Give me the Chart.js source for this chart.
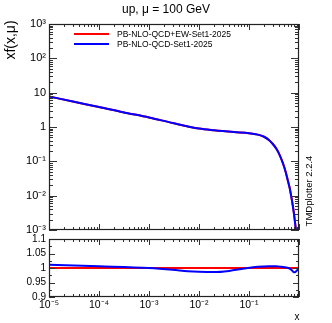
<!DOCTYPE html>
<html><head><meta charset="utf-8">
<script src="https://cdn.jsdelivr.net/npm/chart.js@4.4.0/dist/chart.umd.min.js"></script>
<style>
html,body{margin:0;padding:0;background:#fff;}
#wrap{position:relative;width:332px;height:323px;overflow:hidden;font-family:'Liberation Sans',Arial,sans-serif;background:#fff;}
canvas{position:absolute;left:0;top:0;}
.t{position:absolute;white-space:nowrap;color:#000;line-height:1;}
</style></head><body>
<div id="wrap">
<canvas id="c1" width="332" height="323"></canvas>
<canvas id="c2" width="332" height="323"></canvas>
<div class="t" style="left:166px;top:9px;font-size:12px;transform:translate(-50%,-50%)">up, μ = 100 GeV</div>
<div class="t" style="left:10px;top:40px;font-size:14px;transform:translate(-50%,-50%) rotate(-90deg)">xf(x,μ)</div>
<div class="t" style="left:309px;top:191px;font-size:9.5px;transform:translate(-50%,-50%) rotate(-90deg)">TMDplotter 2.2.4</div>
<div class="t" style="left:297px;top:317px;font-size:10px;transform:translate(-50%,-50%)">x</div>
<div id="legend"></div>
</div>
<script>
// ---- data ----
const xValues = [1e-5, 3e-5, 1e-4, 3e-4, 1e-3, 3e-3, 1e-2, 2e-2, 5e-2, 0.1, 0.15, 0.2, 0.25, 0.3, 0.35, 0.4, 0.45, 0.5, 0.55, 0.6, 0.65, 0.7, 0.75, 0.8, 0.85, 0.9];
const xfQCDEW = [7.8, 5.5, 3.85, 2.7, 1.9, 1.3, 0.9, 0.8, 0.71, 0.66, 0.6, 0.52, 0.42, 0.32, 0.235, 0.165, 0.11, 0.072, 0.045, 0.027, 0.017, 0.0095, 0.0052, 0.0027, 0.0013, 0.0006];
const xfQCD   = [7.8, 5.5, 3.85, 2.7, 1.9, 1.3, 0.9, 0.8, 0.71, 0.66, 0.6, 0.52, 0.42, 0.32, 0.235, 0.165, 0.11, 0.072, 0.045, 0.027, 0.017, 0.0095, 0.0052, 0.0027, 0.0013, 0.0006];
const ratioX    = [1e-5, 1e-4, 1e-3, 3e-3, 6e-3, 1e-2, 2e-2, 4e-2, 8e-2, 0.15, 0.25, 0.35, 0.45, 0.55, 0.65, 0.72, 0.78, 0.83, 0.88, 0.93, 1.0];
const ratioEW   = [1, 1, 1, 1, 1, 1, 1, 1, 1, 1, 1, 1, 1, 1, 1, 1, 1, 1, 1, 1, 1];
const ratioQCD  = [1.011, 1.006, 1.0, 0.994, 0.989, 0.987, 0.986, 0.99, 0.998, 1.004, 1.006, 1.006, 1.004, 1.002, 0.998, 0.992, 0.986, 0.985, 0.989, 0.993, 0.995];
const seriesNames = ['PB-NLO-QCD+EW-Set1-2025', 'PB-NLO-QCD-Set1-2025'];
const seriesColors = ['#ff0000', '#0000ff'];
const xTickValues = [1e-5, 1e-4, 1e-3, 1e-2, 1e-1];
const xTickLabels = ['10⁻⁵', '10⁻⁴', '10⁻³', '10⁻²', '10⁻¹'];
const yTopTickValues = [1e-3, 1e-2, 1e-1, 1, 10, 100, 1000];
const yTopTickLabels = ['10⁻³', '10⁻²', '10⁻¹', '1', '10', '10²', '10³'];
const yRatioTickValues = [0.9, 0.95, 1, 1.05, 1.1];
const yRatioTickLabels = ['0.9', '0.95', '1', '1.05', '1.1'];

const FONT = "'Liberation Sans', Arial, sans-serif";

function logTicks(lo, hi) {
  const out = [];
  for (let e = lo; e <= hi; e++) {
    for (let k = 1; k <= 9; k++) {
      const v = k * Math.pow(10, e);
      if (v > Math.pow(10, hi) * 1.0001) break;
      out.push([v, k === 1]);
    }
  }
  return out;
}
function linTicks(lo, hi, step, majorEvery) {
  const out = [];
  const n = Math.round((hi - lo) / step);
  for (let i = 0; i <= n; i++) out.push([lo + i * step, i % majorEvery === 0]);
  return out;
}

const framePlugin = {
  id: 'frame',
  afterDatasetsDraw(chart, args, o) {
    const {ctx, chartArea: {left, right, top, bottom}} = chart;
    const xs = chart.scales.x, ys = chart.scales.y;
    ctx.save();
    ctx.strokeStyle = '#333';
    ctx.lineWidth = 1;
    ctx.beginPath();
    o.xTicks.forEach(([v, major]) => {
      const px = Math.round(xs.getPixelForValue(v)) + 0.5;
      if (px < left || px > right + 1) return;
      const L = major ? o.xMajor : o.xMinor;
      ctx.moveTo(px, bottom); ctx.lineTo(px, bottom - L);
      ctx.moveTo(px, top); ctx.lineTo(px, top + L);
    });
    o.yTicks.forEach(([v, major]) => {
      const py = Math.round(ys.getPixelForValue(v)) + 0.5;
      if (py < top || py > bottom + 1) return;
      const L = major ? o.yMajor : o.yMinor;
      ctx.moveTo(left, py); ctx.lineTo(left + L, py);
      ctx.moveTo(right, py); ctx.lineTo(right - L, py);
    });
    ctx.stroke();
    ctx.lineWidth = 1.2;
    ctx.strokeStyle = '#222';
    ctx.strokeRect(left + 0.5, top + 0.5, right - left - 1, bottom - top - 1);
    ctx.restore();
  }
};

function pts(xs, ys) { return xs.map((x, i) => ({x, y: ys[i]})); }

function setTicks(values) {
  return scale => { scale.ticks = values.map(v => ({value: v})); };
}

const common = {
  responsive: false,
  animation: false,
  events: [],
  plugins: {legend: {display: false}, title: {display: false}, tooltip: {enabled: false}},
  elements: {point: {radius: 0}, line: {borderWidth: 2, cubicInterpolationMode: 'monotone'}}
};

const chartTop = new Chart(document.getElementById('c1'), {
  type: 'line',
  data: {
    datasets: [
      {label: seriesNames[0], data: pts(xValues, xfQCDEW), borderColor: seriesColors[0], borderWidth: 2, clip: 0, order: 2},
      {label: seriesNames[1], data: pts(xValues, xfQCD), borderColor: seriesColors[1], borderWidth: 2, clip: 0, order: 1}
    ]
  },
  options: Object.assign({}, common, {
    layout: {padding: {top: 24, right: 33, bottom: 93, left: 0}},
    scales: {
      x: {type: 'logarithmic', min: 1e-5, max: 1, display: false},
      y: {
        type: 'logarithmic', min: 1e-3, max: 1e3,
        afterBuildTicks: setTicks(yTopTickValues),
        afterFit: s => { s.width = 49; },
        grid: {display: false, drawTicks: false},
        border: {display: false},
        ticks: {
          autoSkip: false, padding: 3, color: '#000',
          font: {family: FONT, size: 11},
          callback: (v, i) => yTopTickLabels[i]
        }
      }
    },
    plugins: Object.assign({}, common.plugins, {
      frame: {xTicks: logTicks(-5, 0), yTicks: logTicks(-3, 3), xMajor: 6, xMinor: 3, yMajor: 8, yMinor: 4}
    })
  }),
  plugins: [framePlugin]
});

const chartRatio = new Chart(document.getElementById('c2'), {
  type: 'line',
  data: {
    datasets: [
      {label: seriesNames[0], data: pts(ratioX, ratioEW), borderColor: seriesColors[0], borderWidth: 2.2, clip: 0, order: 2},
      {label: seriesNames[1], data: pts(ratioX, ratioQCD), borderColor: seriesColors[1], borderWidth: 2, clip: 0, order: 1}
    ]
  },
  options: Object.assign({}, common, {
    layout: {padding: {top: 239, right: 33, bottom: 0, left: 0}},
    scales: {
      x: {
        type: 'logarithmic', min: 1e-5, max: 1,
        afterBuildTicks: setTicks(xTickValues),
        afterFit: s => { s.height = 26; },
        grid: {display: false, drawTicks: false},
        border: {display: false},
        ticks: {
          autoSkip: false, maxRotation: 0, padding: 2, color: '#000',
          font: {family: FONT, size: 10.5},
          callback: (v, i) => xTickLabels[i]
        }
      },
      y: {
        type: 'linear', min: 0.9, max: 1.1,
        afterBuildTicks: setTicks(yRatioTickValues),
        afterFit: s => { s.width = 49; },
        grid: {display: false, drawTicks: false},
        border: {display: false},
        ticks: {
          autoSkip: false, padding: 3, color: '#000',
          font: {family: FONT, size: 10},
          callback: (v, i) => yRatioTickLabels[i]
        }
      }
    },
    plugins: Object.assign({}, common.plugins, {
      frame: {xTicks: logTicks(-5, 0), yTicks: linTicks(0.9, 1.1, 0.025, 2), xMajor: 6, xMinor: 3, yMajor: 6, yMinor: 3}
    })
  }),
  plugins: [framePlugin]
});

// legend built from the top chart's datasets
const leg = document.getElementById('legend');
chartTop.data.datasets.forEach((ds, i) => {
  const y = 34 + i * 9.5;
  const line = document.createElement('div');
  line.style.cssText = `position:absolute;left:74px;top:${y - 1}px;width:35px;height:2px;background:${ds.borderColor};`;
  leg.appendChild(line);
  const txt = document.createElement('div');
  txt.className = 't';
  txt.style.cssText = `left:117px;top:${y}px;font-size:8.5px;transform:translateY(-50%);`;
  txt.textContent = ds.label;
  leg.appendChild(txt);
});
</script>
</body></html>
